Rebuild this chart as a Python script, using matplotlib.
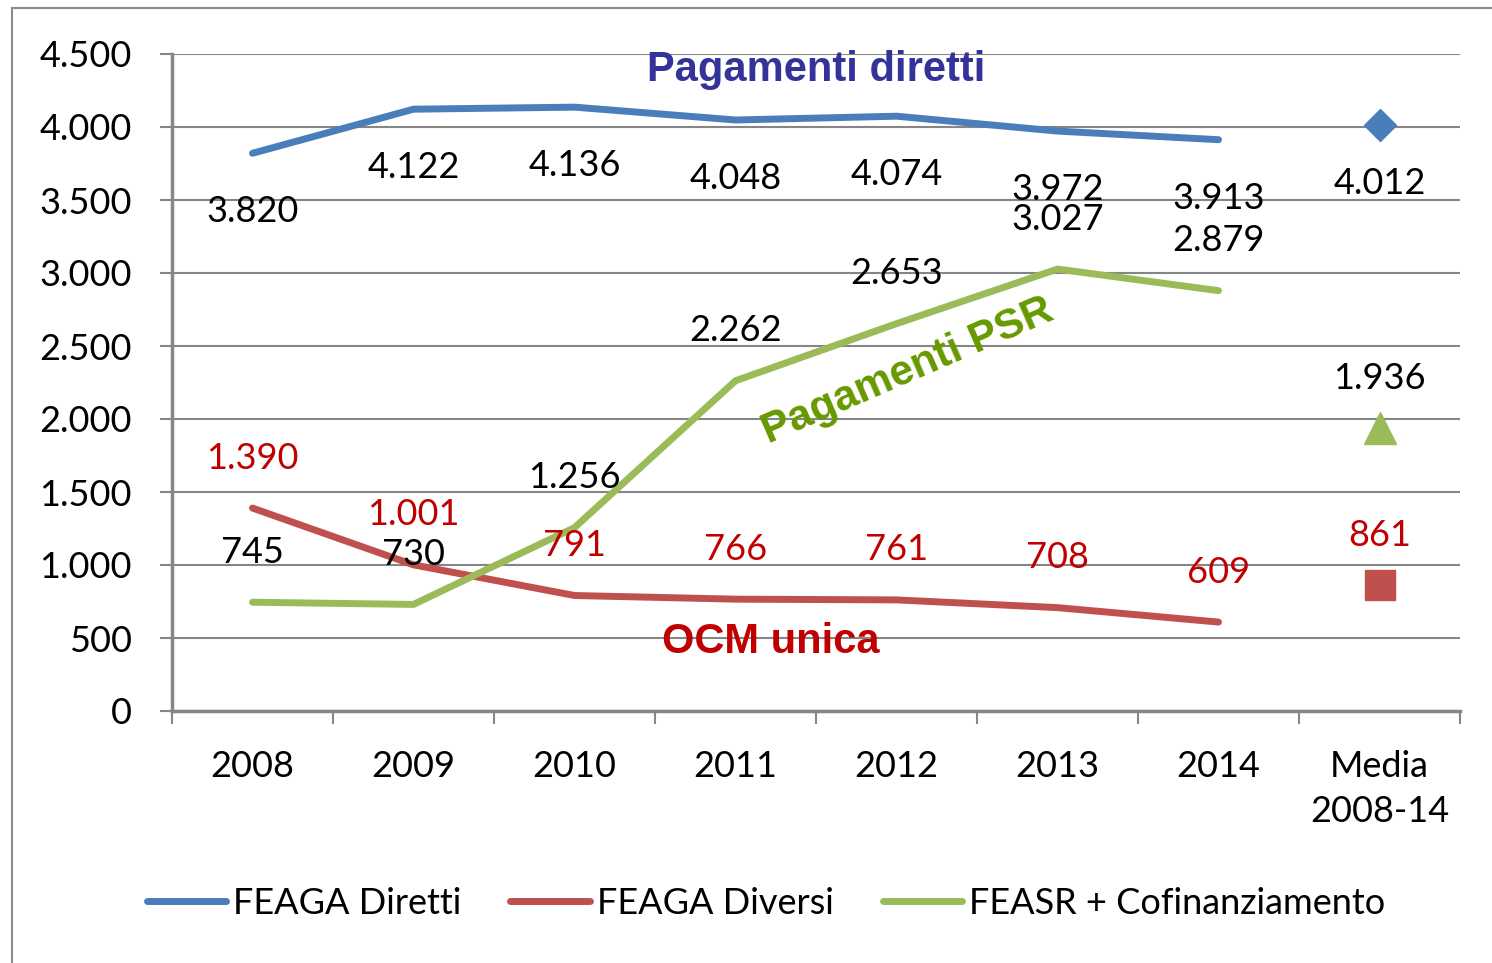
import numpy as np
import matplotlib
matplotlib.use("Agg")
from matplotlib import pyplot as plt
from matplotlib.patches import Rectangle

plt.rcParams['font.family'] = ['Lato', 'DejaVu Sans']

# dati (milioni di euro)
categorie = ['2008', '2009', '2010', '2011', '2012', '2013', '2014', 'Media\n2008-14']
feaga_diretti = [3820, 4122, 4136, 4048, 4074, 3972, 3913]
feaga_diversi = [1390, 1001, 791, 766, 761, 708, 609]
feasr = [745, 730, 1256, 2262, 2653, 3027, 2879]
media_diretti = 4012
media_diversi = 861
media_feasr = 1936

blu = '#4A7EBB'
rosso = '#C0504D'
verde = '#9BBB59'
griglia = '#868686'


def fmt(v):
    return '{:,}'.format(v).replace(',', '.')


fig = plt.figure(figsize=(14.92, 9.63), dpi=100)
ax = fig.add_axes([172 / 1492, 1 - 711 / 963, (1460 - 172) / 1492, (711 - 54) / 963])

# cornice esterna
fig.patches.append(Rectangle((12 / 1492, -0.1), 2, 1 - 8 / 963 + 0.1, transform=fig.transFigure,
                             fill=False, edgecolor='#8C8C8C', lw=1.5))

x = np.arange(len(feaga_diretti))
xm = len(categorie) - 1

ax.plot(x, feaga_diretti, color=blu, lw=5, solid_capstyle='round', solid_joinstyle='round',
        label='FEAGA Diretti', zorder=3)
ax.plot(x, feaga_diversi, color=rosso, lw=5, solid_capstyle='round', solid_joinstyle='round',
        label='FEAGA Diversi', zorder=3)
ax.plot(x, feasr, color=verde, lw=5, solid_capstyle='round', solid_joinstyle='round',
        label='FEASR + Cofinanziamento', zorder=3)

ax.plot([xm], [media_diretti], 'D', color=blu, markersize=16, zorder=3)
ax.plot([xm], [media_diversi], 's', color=rosso, markersize=21, zorder=3)
ax.plot([xm], [media_feasr], '^', color=verde, markersize=23, zorder=3)

# etichette dati
for xi, v in zip(list(x) + [xm], feaga_diretti + [media_diretti]):
    ax.annotate(fmt(v), (xi, v), xytext=(0, -42), textcoords='offset points',
                ha='center', va='center', fontsize=26, color='black', zorder=4)
for xi, v in zip(list(x) + [xm], feaga_diversi + [media_diversi]):
    ax.annotate(fmt(v), (xi, v), xytext=(0, 36), textcoords='offset points',
                ha='center', va='center', fontsize=26, color='#C00000', zorder=4)
for xi, v in zip(list(x) + [xm], feasr + [media_feasr]):
    ax.annotate(fmt(v), (xi, v), xytext=(0, 36), textcoords='offset points',
                ha='center', va='center', fontsize=26, color='black', zorder=4)

# titoli delle serie
ax.text(3.5, 4390, 'Pagamenti diretti', ha='center', va='center', fontsize=30,
        fontweight='bold', family='Liberation Sans', color='#333399', zorder=5)
ax.text(3.22, 470, 'OCM unica', ha='center', va='center', fontsize=30,
        fontweight='bold', family='Liberation Sans', color='#C00000', zorder=5)
ax.text(4.07, 2330, 'Pagamenti PSR', ha='center', va='center', fontsize=30.5, rotation=23.5,
        fontweight='bold', family='Liberation Sans', color='#669900', zorder=5)

ax.set_xlim(-0.5, len(categorie) - 0.5)
ax.set_ylim(0, 4500)
ax.set_yticks(np.arange(0, 4501, 500))
ax.set_yticklabels([fmt(v) for v in range(0, 4501, 500)])
ax.set_xticks(np.arange(len(categorie)))
ax.set_xticklabels(categorie, linespacing=1.45)
ax.set_xticks(np.arange(len(categorie) + 1) - 0.5, minor=True)

ax.grid(axis='y', color=griglia, lw=1.5, zorder=0)
ax.tick_params(axis='y', length=9, width=1.5, color=griglia, pad=20, labelsize=26)
ax.tick_params(axis='x', which='major', length=0, pad=28, labelsize=26)
ax.tick_params(axis='x', which='minor', length=9, width=1.5, color=griglia)
for s in ['top', 'right']:
    ax.spines[s].set_visible(False)
for s in ['left', 'bottom']:
    ax.spines[s].set_color(griglia)
    ax.spines[s].set_linewidth(2.5)

fig.legend(loc='center', bbox_to_anchor=(766 / 1492, 1 - 903 / 963), ncol=3, frameon=False,
           fontsize=26, handlelength=2.2, handletextpad=0.2, columnspacing=1.35)

fig.savefig('out.png', dpi=100)
